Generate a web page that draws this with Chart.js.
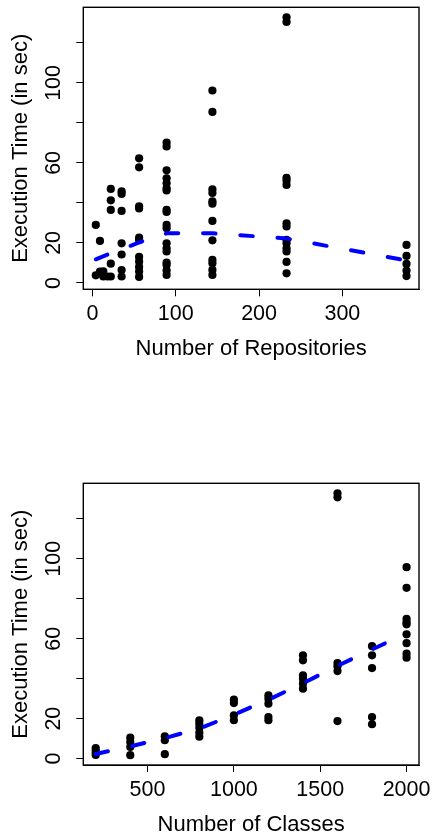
<!DOCTYPE html>
<html>
<head>
<meta charset="utf-8">
<script src="https://cdn.jsdelivr.net/npm/chart.js@4"></script>
<style>
  html, body { margin: 0; padding: 0; background: #fff; }
  canvas { position: absolute; left: 0; }
  #c1 { top: 0; }
  #c2 { top: 419px; }
</style>
</head>
<body>
<canvas id="c1" width="432" height="419"></canvas>
<canvas id="c2" width="432" height="419"></canvas>
<script>
// ---- data ----
const reposLevels = [4, 9, 13, 18, 22, 35, 56, 89, 144, 233, 377];
const reposTimes = [
  [29, 3.8],
  [21, 5.7],
  [5.8, 3.2],
  [3.2],
  [47, 41.3, 36.5, 9.6, 3.2],
  [45.8, 44.5, 36, 19.8, 14.2, 6.4, 3.2],
  [62.3, 57.8, 38.3, 37.2, 22.6, 21.5, 13, 10.7, 8, 5.7, 3],
  [70.2, 68.2, 56.3, 52.3, 49.8, 47.3, 46.2, 36.5, 35.5, 29, 27.3, 19.8, 17.3, 15.7, 10.2, 9, 6.2, 4],
  [96.2, 85.5, 46.8, 45, 40.8, 39.6, 31, 21.3, 11.5, 9.8, 6.5, 4],
  [132.8, 130.5, 52.5, 51.2, 49, 29.8, 28.2, 21.5, 19.8, 17.3, 15.7, 10.5, 4.8],
  [19, 13.5, 9.5, 6.2, 3.4]
];
const reposFitX = [4, 22, 56, 89, 144, 233, 377];
const reposFitY = [11.8, 14.8, 20.2, 24.8, 24.8, 22.2, 11.2];
const reposTicks = [0, 100, 200, 300];

const classLevels = [200, 400, 600, 800, 1000, 1200, 1400, 1600, 1800, 2000];
const classTimes = [
  [5.3, 4, 2.8, 1.8],
  [10.5, 8.3, 5.8, 1.7],
  [11.2, 9.2, 2.2],
  [19.2, 17.5, 15.5, 13, 11],
  [29.5, 27.8, 21.7, 19.2],
  [31.7, 30, 27.5, 20.8, 19.2],
  [51.7, 49.2, 41.7, 40, 37.5, 35],
  [132.8, 130.8, 47.8, 46.2, 43.8, 18.8],
  [56.3, 51.7, 45.3, 20.8, 17.2],
  [95.8, 85.5, 70, 68.3, 67.2, 62.2, 57.8, 52.5, 50.5]
];
const classFitX = classLevels;
const classFitY = [2.3, 6.1, 10.3, 15.0, 22.0, 29.5, 37.7, 46.4, 54.6, 62.8];
const classTicks = [500, 1000, 1500, 2000];

const timeTicks = [0, 20, 40, 60, 80, 100, 120];
const timeLabelled = [0, 20, 60, 100];
const yTitle = 'Execution Time (in sec)';

// ---- helpers ----
function toPoints(levels, groups) {
  const pts = [];
  levels.forEach((x, i) => groups[i].forEach(y => pts.push({x, y})));
  return pts;
}
function toLine(xs, ys) { return xs.map((x, i) => ({x, y: ys[i]})); }

const FAMILY = "'Liberation Sans', Arial, sans-serif";
Chart.defaults.font.family = FAMILY;
Chart.defaults.font.size = 21.5;
Chart.defaults.color = '#000';

const boxPlugin = {
  id: 'box',
  afterDraw(chart) {
    const {ctx, chartArea: a} = chart;
    ctx.save();
    ctx.strokeStyle = '#000';
    ctx.lineWidth = 1.4;
    ctx.strokeRect(a.left, a.top, a.right - a.left, a.bottom - a.top);
    ctx.restore();
  }
};

function makeChart(id, pts, line, xOpts, xTitle, padTop, padBottom) {
  return new Chart(document.getElementById(id), {
    type: 'scatter',
    data: {
      datasets: [
        {
          type: 'line', data: line, showLine: true,
          borderColor: '#0000ff', borderWidth: 4, borderDash: [12.5, 24.8],
          borderCapStyle: 'round', pointRadius: 0, tension: 0, fill: false
        },
        {
          data: pts, pointRadius: 4.1, pointBackgroundColor: '#000',
          pointBorderWidth: 0, pointBorderColor: '#000'
        }
      ]
    },
    options: {
      responsive: false, animation: false, devicePixelRatio: 1,
      layout: { padding: { left: 0, right: 13, top: padTop, bottom: padBottom } },
      plugins: { legend: { display: false }, tooltip: { enabled: false } },
      scales: {
        x: {
          type: 'linear', position: 'bottom',
          min: xOpts.min, max: xOpts.max,
          grid: { drawOnChartArea: false, drawTicks: true, tickLength: 7, color: '#000', lineWidth: 1 },
          border: { display: true, color: '#000', width: 1 },
          ticks: { autoSkip: false, maxRotation: 0, minRotation: 0, padding: 4.8, color: '#000',
                   callback: v => String(v) },
          afterBuildTicks(s) { s.ticks = xOpts.ticks.map(v => ({value: v})); },
          title: { display: true, text: xTitle, color: '#000', padding: 0, font: { size: 22, family: FAMILY } },
          afterFit(s) { s.height = 72.9; s.paddingLeft = 0; s.paddingRight = 0; }
        },
        y: {
          type: 'linear', position: 'left',
          min: -3.2, max: 137.8,
          grid: { drawOnChartArea: false, drawTicks: true, tickLength: 7, color: '#000', lineWidth: 1 },
          border: { display: true, color: '#000', width: 1 },
          ticks: {
            autoSkip: false,
            minRotation: 90, maxRotation: 90, crossAlign: 'center', padding: 4.1, color: '#000',
            callback: v => timeLabelled.includes(v) ? String(v) : ''
          },
          afterBuildTicks(s) { s.ticks = timeTicks.map(v => ({value: v})); },
          title: { display: true, text: yTitle, color: '#000', padding: { top: 8.1, bottom: 0 }, font: { size: 22, family: FAMILY } },
          afterFit(s) { s.width = 83.3; s.paddingTop = 0; s.paddingBottom = 0; }
        }
      }
    },
    plugins: [boxPlugin]
  });
}

makeChart('c1', toPoints(reposLevels, reposTimes), toLine(reposFitX, reposFitY),
  {min: -11, max: 392, ticks: reposTicks}, 'Number of Repositories', 7.3, 419 - 289.3 - 72.9);
makeChart('c2', toPoints(classLevels, classTimes), toLine(classFitX, classFitY),
  {min: 128, max: 2072, ticks: classTicks}, 'Number of Classes', 64.3, 419 - 346 - 72.9);
</script>
</body>
</html>
